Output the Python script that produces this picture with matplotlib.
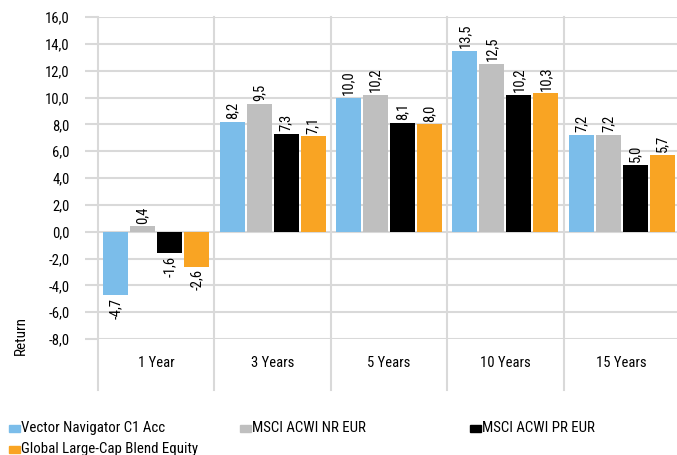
import numpy as np
import matplotlib.pyplot as plt
from matplotlib import font_manager
from matplotlib.patches import Rectangle

# datos
categorias = ['1 Year', '3 Years', '5 Years', '10 Years', '15 Years']
series = ['Vector Navigator C1 Acc', 'MSCI ACWI NR EUR', 'MSCI ACWI PR EUR',
          'Global Large-Cap Blend Equity']
fondo = [-4.7, 8.2, 10.0, 13.5, 7.2]
acwi_nr = [0.4, 9.5, 10.2, 12.5, 7.2]
acwi_pr = [-1.6, 7.3, 8.1, 10.2, 5.0]
categoria_media = [-2.6, 7.1, 8.0, 10.3, 5.7]
valores = [fondo, acwi_nr, acwi_pr, categoria_media]
colores = ['#7BBDEA', '#BFBFBF', '#000000', '#F9A423']

# buscar una fuente estrecha si hay alguna instalada
fuentes = font_manager.fontManager.ttflist
nombres = {f.name for f in fuentes}
familia = 'Roboto'
estiramiento = 'normal'
for cand in ['Roboto Condensed', 'Liberation Sans Narrow', 'Open Sans Condensed',
             'Noto Sans Condensed', 'Arial Narrow']:
    if cand in nombres:
        familia = cand
        break
else:
    for f in fuentes:
        if f.name in ('Noto Sans', 'Open Sans', 'DejaVu Sans') and f.stretch in ('condensed', 'semi-condensed', 'extra-condensed'):
            familia = f.name
            estiramiento = f.stretch
            break
plt.rcParams['font.family'] = [familia, 'DejaVu Sans']
plt.rcParams['font.stretch'] = estiramiento
grid_color = '#D9D9D9'

fig = plt.figure(figsize=(6.77, 4.55), dpi=100)
ax = fig.add_axes([98/677, 116/455, 582/677, 322/455])

x = np.arange(len(categorias))
paso = 0.232
ancho = 0.215
for i, (vals, col) in enumerate(zip(valores, colores)):
    pos = x + (i - 1.5) * paso
    ax.bar(pos, vals, width=ancho, color=col, zorder=3)
    for p, v in zip(pos, vals):
        txt = f'{v:.1f}'.replace('.', ',')
        if v >= 0:
            ax.annotate(txt, (p, v), xytext=(0, 2), textcoords='offset points',
                        rotation=90, ha='center', va='bottom', fontsize=10.5)
        else:
            ax.annotate(txt, (p, v), xytext=(0, -2), textcoords='offset points',
                        rotation=90, ha='center', va='top', fontsize=10.5)

ax.set_xlim(-0.5, len(categorias) - 0.5)
ax.set_ylim(-8, 16)
ax.set_yticks(np.arange(-8, 17, 2))
ax.set_yticklabels([f'{t:.1f}'.replace('.', ',') for t in np.arange(-8, 17, 2)])
ax.set_xticks(x)
ax.set_xticklabels(categorias)
ax.tick_params(axis='x', length=0, pad=12, labelsize=10.5)
ax.tick_params(axis='y', length=9.5, width=1.5, color=grid_color, pad=11, labelsize=10.5)
ax.yaxis.grid(True, color=grid_color, linewidth=1.5, zorder=0)
for s in ax.spines.values():
    s.set_visible(False)

# separadores verticales entre categorias
for b in np.arange(-0.5, len(categorias), 1.0):
    ax.axvline(b, ymin=-51/322, ymax=1, color=grid_color, linewidth=1.5,
               clip_on=False, zorder=0)

ax.set_ylabel('Return', fontsize=11)
ax.yaxis.set_label_coords(-0.12, 0.01)

# leyenda
pos_leyenda = [(9, 428), (240, 428), (470, 428), (9, 449)]
for nombre, col, (lx, ly) in zip(series, colores, pos_leyenda):
    fig.patches.append(Rectangle((lx/677, (455 - ly - 3.5)/455), 11/677, 7/455,
                                 color=col, transform=fig.transFigure, figure=fig))
    fig.text((lx + 12)/677, (455 - ly)/455, nombre, va='center', ha='left', fontsize=10.7)

fig.savefig('out.png', dpi=100)
